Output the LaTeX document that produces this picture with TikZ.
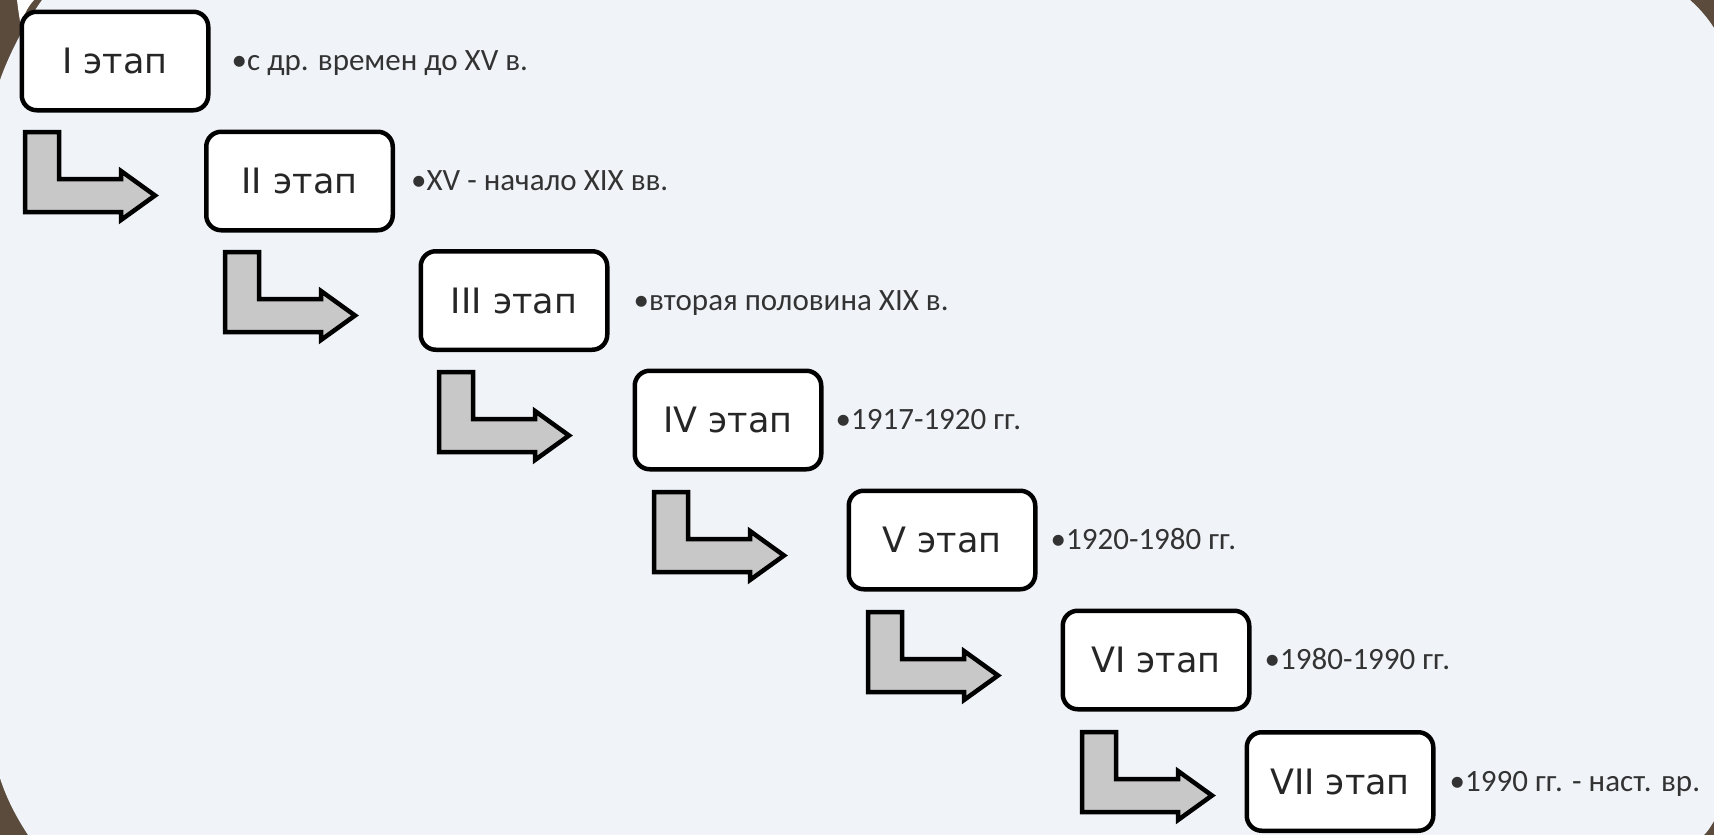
\documentclass[tikz,border=0pt]{standalone}
\usepackage{fontspec}
\usetikzlibrary{calc}
\newfontfamily\boxfont{DejaVu Sans}
\newfontfamily\labfont{Carlito}
\definecolor{bgc}{HTML}{F0F4F9}
\definecolor{framec}{HTML}{5A4B3C}
\definecolor{arrowfill}{HTML}{C8C8C8}
\tikzset{
  stage/.style={draw=black, line width=4.5pt, rounded corners=15pt, fill=white,
    minimum width=186.5pt, minimum height=98.5pt, inner sep=0pt,
    font=\boxfont\fontsize{35}{40}\selectfont, text=black!85},
  datelabel/.style={anchor=base west, inner sep=0pt,
    font=\labfont\fontsize{31}{36}\selectfont, text=black!80},
  pics/bentarrow/.style={code={
    \draw[line width=4.5pt, fill=arrowfill, line join=miter]
      (2,2) -- (36,2) -- (36,49) -- (98,49) -- (98,41) -- (132,65.5)
      -- (98,90) -- (98,82) -- (2,82) -- cycle;
  }}
}
\begin{document}
\begin{tikzpicture}[x=1pt,y=-1pt]
\useasboundingbox (0,0) rectangle (1714,835);
% background
\fill[framec] (0,0) rectangle (1714,835);
\fill[bgc] (42,0) -- (1690,0) .. controls (1699,8) and (1707,17) .. (1714,28)
  -- (1714,821) .. controls (1711,826) and (1708,831) .. (1704,835)
  -- (28,835) .. controls (17,818) and (7,800) .. (0,778)
  -- (0,80) .. controls (10,52) and (25,24) .. (42,0) -- cycle;
\fill[white] (17,0) -- (34,0) .. controls (27,8) and (23,16) .. (21,26)
  .. controls (19,16) and (18,8) .. (17,0) -- cycle;
% stage boxes
\node[stage] (s1) at (115,61) {I этап};
\node[stage] (s2) at (299.5,181) {II этап};
\node[stage] (s3) at (514,300.5) {III этап};
\node[stage] (s4) at (728,420) {IV этап};
\node[stage] (s5) at (942,540) {V этап};
\node[stage] (s6) at (1156,660) {VI этап};
\node[stage] (s7) at (1340,781.5) {VII этап};
% date labels
\node[datelabel] (d1) at ($(s1.east)+(21,9.5)$) {•с др. времен  до XV в.};
\node[datelabel] (d2) at ($(s2.east)+(16,9.5)$) {•XV - начало XIX вв.};
\node[datelabel] (d3) at ($(s3.east)+(24,9.5)$) {•вторая половина XIX в.};
\node[datelabel] (d4) at ($(s4.east)+(12,9.5)$) {•1917-1920 гг.};
\node[datelabel] (d5) at ($(s5.east)+(13,9.5)$) {•1920-1980 гг.};
\node[datelabel] (d6) at ($(s6.east)+(13,9.5)$) {•1980-1990 гг.};
\node[datelabel] (d7) at ($(s7.east)+(14,9.5)$) {•1990 гг. - наст. вр.};
% bent arrows
\pic at (23,130) {bentarrow};
\pic at (223,250) {bentarrow};
\pic at (437,370) {bentarrow};
\pic at (652,490) {bentarrow};
\pic at (866,610) {bentarrow};
\pic at (1080,730) {bentarrow};
\end{tikzpicture}
\end{document}
